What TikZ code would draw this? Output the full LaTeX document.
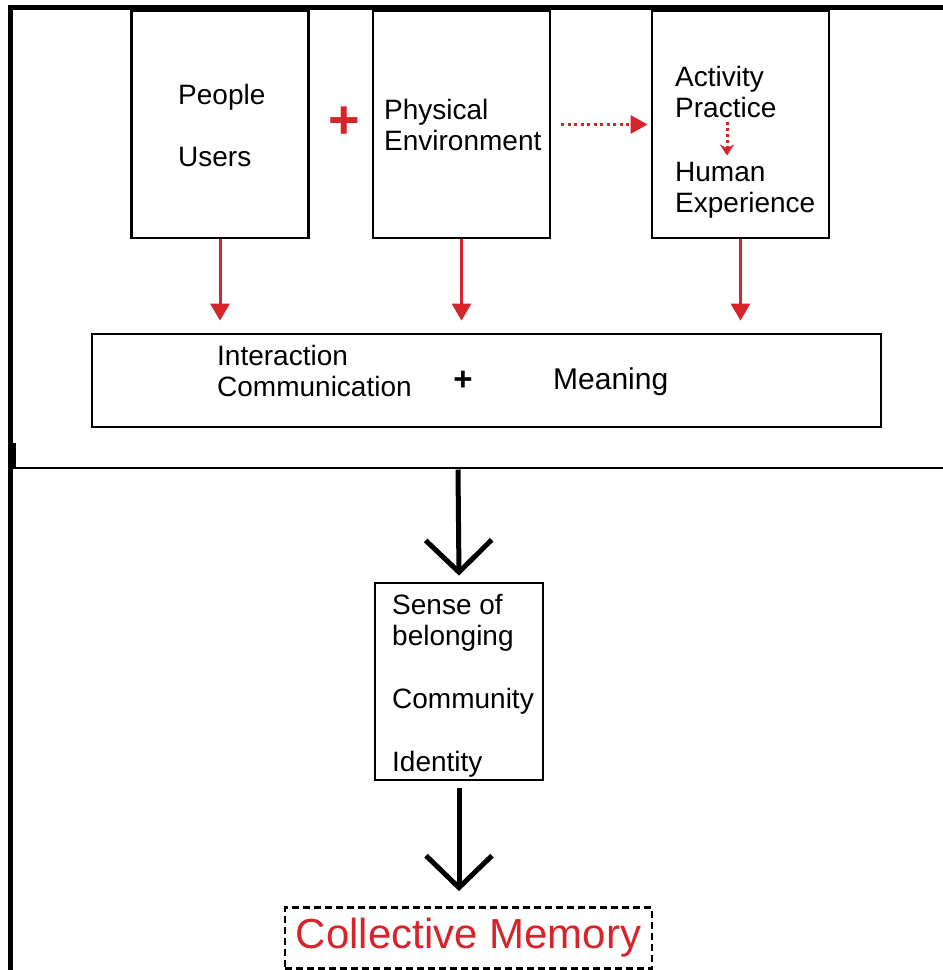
\documentclass[tikz,border=0pt]{standalone}
\usepackage{fontspec}
\setmainfont{Liberation Sans}
\usetikzlibrary{arrows.meta}
\definecolor{flowred}{HTML}{D7242B}
\begin{document}
\begin{tikzpicture}[x=1pt,y=-1pt,
  box/.style={draw=black, line width=2.8pt, rectangle, inner sep=0pt},
  lbl/.style={anchor=base west, inner sep=0pt, font=\fontsize{28}{30}\selectfont},
  redarrow/.style={draw=flowred, line width=3pt, -{Triangle[length=17pt,width=19pt]}},
  dotarrow/.style={draw=flowred, line width=3pt, dash pattern=on 3pt off 3.5pt, -{Triangle[length=17pt,width=18pt]}},
  smalldot/.style={draw=flowred, line width=3pt, dash pattern=on 3pt off 3pt, -{Stealth[length=11pt,width=14pt]}},
  bigarrow/.style={draw=black, line width=5pt, -{Straight Barb[length=32pt,width=66pt]}}]
\useasboundingbox (0,0) rectangle (943,970);
\fill[white] (0,0) rectangle (943,970);

% outer frame and the divider of the upper panel
\draw[line width=5pt] (10.5,975) -- (10.5,7.5) -- (950,7.5);
\draw[line width=2.8pt] (14.5,443) -- (14.5,468) -- (950,468);
\coordinate (split) at (458,469.5);

% upper boxes
\node[box, minimum width=177pt, minimum height=227pt] (people) at (220,124.5) {};
\node[box, minimum width=177pt, minimum height=227pt] (phys) at (461.5,124.5) {};
\node[box, minimum width=177pt, minimum height=227pt] (act) at (740.5,124.5) {};
\node[box, minimum width=789pt, minimum height=93pt] (inter) at (486.5,380.5) {};

\node[lbl] (tPeople) at (178,104) {People};
\node[lbl] (tUsers) at (178,166) {Users};
\node[lbl] (tPhys) at (384,119) {Physical};
\node[lbl] (tEnv) at (384,150) {Environment};
\node[lbl] (tAct) at (675,86) {Activity};
\node[lbl] (tPrac) at (675,117) {Practice};
\node[lbl] (tHum) at (675,181) {Human};
\node[lbl] (tExp) at (675,212) {Experience};
\node[text=flowred, inner sep=0pt, font=\bfseries\fontsize{54}{54}\selectfont] (plusA) at (344,123) {+};

\node[lbl] (tInt) at (217,365) {Interaction};
\node[lbl] (tCom) at (217,396) {Communication};
\node[inner sep=0pt, font=\bfseries\fontsize{33}{33}\selectfont] (plusB) at (463,381) {+};
\node[lbl, font=\fontsize{30}{32}\selectfont] (tMean) at (553,389) {Meaning};

% connectors of the upper panel (canvas y points up, so a downward shift is positive here)
\draw[dotarrow] (phys.east) ++(10pt,0) coordinate (dA) -- ([xshift=-3pt]act.west) coordinate (dB);
\draw[smalldot] ([xshift=52pt,yshift=-5pt]tPrac.south west) -- ([xshift=52pt,yshift=6pt]tHum.north west);
\draw[redarrow] (people.south) -- ([yshift=12pt]people.south |- inter.north);
\draw[redarrow] (phys.south) -- ([yshift=12pt]phys.south |- inter.north);
\draw[redarrow] (act.south) -- ([yshift=12pt]act.south |- inter.north);

% lower column
\node[box, minimum width=168pt, minimum height=197pt] (belong) at (459,681.5) {};
\node[lbl] (tSense) at (392,614) {Sense of};
\node[lbl] (tBel) at (392,645) {belonging};
\node[lbl] (tComm) at (392,708) {Community};
\node[lbl] (tIdent) at (392,771) {Identity};

\node[draw=black, line width=2.8pt, dash pattern=on 7pt off 4pt, rectangle, inner sep=0pt,
      minimum width=367pt, minimum height=61pt, text=flowred,
      font=\fontsize{42}{42}\selectfont] (memory) at (468.5,938) {Collective Memory};

\draw[bigarrow] (split) -- ([yshift=6pt]belong.north);
\draw[bigarrow] ([yshift=-7pt]belong.south) -- ([yshift=15pt]belong.south |- memory.north);
\end{tikzpicture}
\end{document}
